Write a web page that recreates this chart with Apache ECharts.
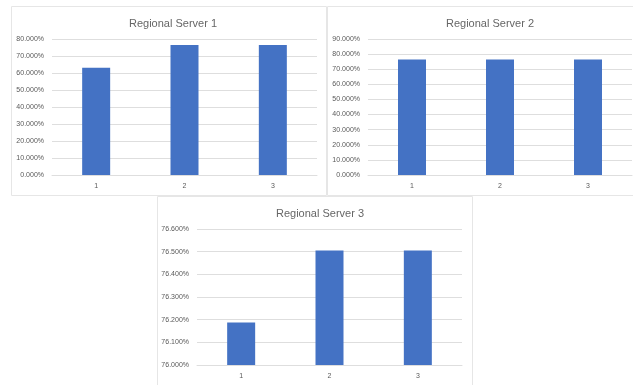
<!DOCTYPE html>
<html>
<head>
<meta charset="utf-8">
<script src="https://cdn.jsdelivr.net/npm/echarts@6/dist/echarts.min.js"></script>
<style>
  html, body { margin: 0; padding: 0; background: #ffffff; }
  #chart { width: 633px; height: 385px; }
</style>
</head>
<body>
<div id="chart"></div>
<script>
// Availability per regional server (percent)
const categories = ['1', '2', '3'];
const server1 = [63.1, 76.5, 76.5];
const server2 = [76.5, 76.5, 76.5];
const server3 = [76.187, 76.505, 76.505];
const titles = ['Regional Server 1', 'Regional Server 2', 'Regional Server 3'];

const FONT = '"Liberation Sans", Arial, sans-serif';
const GRID_LINE = '#dedede';
const LABEL = '#595959';
const BAR = '#4472c4';

const pct = v => v.toFixed(3) + '%';

function xAxis(gridIndex) {
  return {
    type: 'category', gridIndex, data: categories,
    axisLine: { lineStyle: { color: GRID_LINE } },
    axisTick: { show: false },
    axisLabel: { color: LABEL, fontSize: 7, fontFamily: FONT, margin: 8 }
  };
}
function yAxis(gridIndex, min, max, interval) {
  return {
    type: 'value', gridIndex, min, max, interval,
    axisLine: { show: false },
    axisTick: { show: false },
    splitLine: { lineStyle: { color: GRID_LINE, width: 1 } },
    axisLabel: { color: LABEL, fontSize: 7, fontFamily: FONT, margin: 8, formatter: pct }
  };
}
function bars(i, data) {
  return {
    type: 'bar', xAxisIndex: i, yAxisIndex: i, data,
    barWidth: 28,
    itemStyle: { color: BAR },
    silent: true
  };
}
function panel(x, y, w, h) {
  return {
    type: 'rect', shape: { x: x + 0.5, y: y + 0.5, width: w, height: h },
    style: { fill: '#ffffff', stroke: '#e6e6e6', lineWidth: 1 }, z: -10
  };
}
function title(text, cx, top) {
  return {
    text, left: cx, top, textAlign: 'center',
    textStyle: { color: '#666666', fontSize: 11, fontWeight: 'normal', fontFamily: FONT }
  };
}

const chart = echarts.init(document.getElementById('chart'), null, { renderer: 'canvas' });
chart.setOption({
  animation: false,
  backgroundColor: '#ffffff',
  graphic: [
    panel(11, 6, 315, 189),
    panel(327, 6, 310, 189),
    panel(157, 196, 315, 195)
  ],
  title: [
    title(titles[0], 168, 13),
    title(titles[1], 485, 13),
    title(titles[2], 315, 203)
  ],
  grid: [
    { left: 52, right: 316, top: 39, bottom: 210 },
    { left: 368, right: 1, top: 39, bottom: 210 },
    { left: 197, right: 171, top: 229, bottom: 20 }
  ],
  xAxis: [xAxis(0), xAxis(1), xAxis(2)],
  yAxis: [yAxis(0, 0, 80, 10), yAxis(1, 0, 90, 10), yAxis(2, 76.0, 76.6, 0.1)],
  series: [bars(0, server1), bars(1, server2), bars(2, server3)]
});
</script>
</body>
</html>
